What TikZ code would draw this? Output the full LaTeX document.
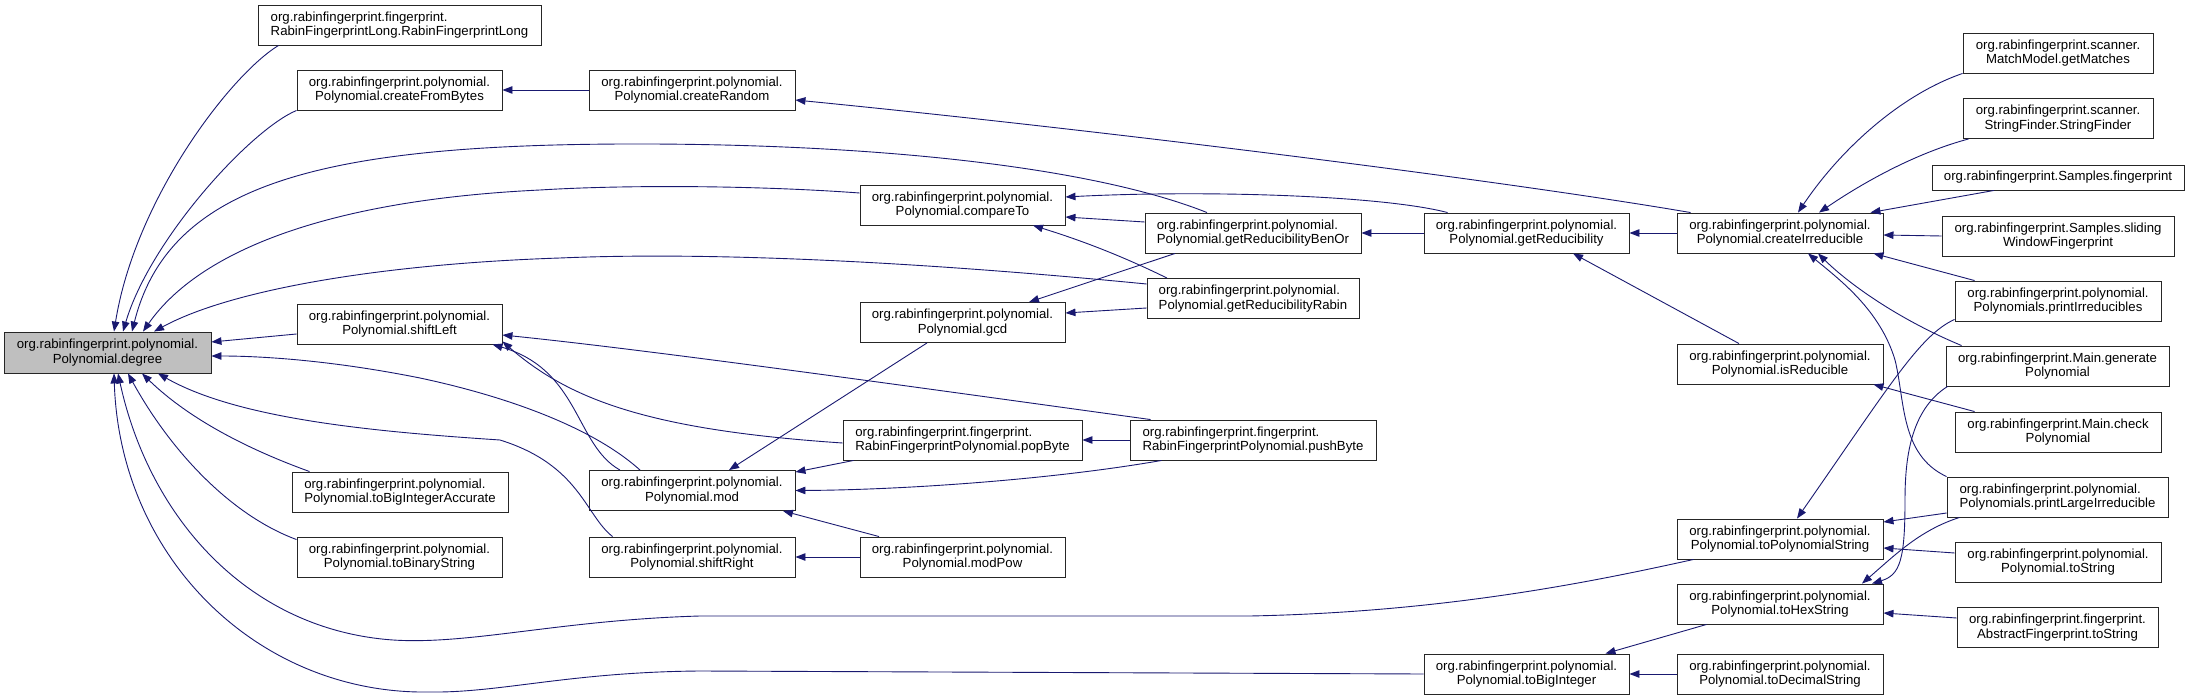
\documentclass[tikz,border=0pt]{standalone}
\usepackage{fontspec}
\setmainfont{Liberation Sans}
\usetikzlibrary{arrows.meta,calc}
\definecolor{edgeblue}{HTML}{191970}
\definecolor{graybg}{HTML}{BFBFBF}
\begin{document}
\begin{tikzpicture}[x=1pt,y=-1pt,
  fn/.style={draw=black!85, line width=0.9pt, fill=white, inner sep=0pt, minimum height=40pt, align=center, font=\fontsize{13.2}{14.5}\selectfont},
  fl/.style={fn, align=left},
  e/.style={draw=edgeblue, line width=0.9pt, -{Triangle[length=10pt,width=7.5pt]}}]
\useasboundingbox (0,0) rectangle (2189,700);
% nodes
\node[fn, minimum width=207pt, minimum height=41pt, fill=graybg] (degree) at (107.5,352.5) {org.rabinfingerprint.polynomial.\\Polynomial.degree};
\node[fl, minimum width=283pt] (rfl) at (399.5,25) {org.rabinfingerprint.fingerprint.\\RabinFingerprintLong.RabinFingerprintLong};
\node[fn, minimum width=205pt] (cfb) at (399.5,90) {org.rabinfingerprint.polynomial.\\Polynomial.createFromBytes};
\node[fn, minimum width=205pt] (shl) at (399.5,324) {org.rabinfingerprint.polynomial.\\Polynomial.shiftLeft};
\node[fl, minimum width=216pt] (tbia) at (400,492) {org.rabinfingerprint.polynomial.\\Polynomial.toBigIntegerAccurate};
\node[fn, minimum width=205pt] (tbs) at (399.5,557) {org.rabinfingerprint.polynomial.\\Polynomial.toBinaryString};
\node[fn, minimum width=206pt] (crnd) at (692,90) {org.rabinfingerprint.polynomial.\\Polynomial.createRandom};
\node[fn, minimum width=205pt] (cmp) at (962.5,205) {org.rabinfingerprint.polynomial.\\Polynomial.compareTo};
\node[fn, minimum width=205pt] (gcd) at (962.5,322.5) {org.rabinfingerprint.polynomial.\\Polynomial.gcd};
\node[fl, minimum width=239pt] (pop) at (962.5,440) {org.rabinfingerprint.fingerprint.\\RabinFingerprintPolynomial.popByte};
\node[fn, minimum width=206pt] (mod) at (692,490.5) {org.rabinfingerprint.polynomial.\\Polynomial.mod};
\node[fn, minimum width=206pt] (shr) at (692,557) {org.rabinfingerprint.polynomial.\\Polynomial.shiftRight};
\node[fn, minimum width=205pt] (modpow) at (962.5,557) {org.rabinfingerprint.polynomial.\\Polynomial.modPow};
\node[fl, minimum width=216pt] (benor) at (1253,233) {org.rabinfingerprint.polynomial.\\Polynomial.getReducibilityBenOr};
\node[fl, minimum width=212pt] (rabin) at (1253,298.5) {org.rabinfingerprint.polynomial.\\Polynomial.getReducibilityRabin};
\node[fl, minimum width=246pt] (push) at (1253,440) {org.rabinfingerprint.fingerprint.\\RabinFingerprintPolynomial.pushByte};
\node[fn, minimum width=205pt] (getred) at (1526.5,233) {org.rabinfingerprint.polynomial.\\Polynomial.getReducibility};
\node[fn, minimum width=205pt] (tbi) at (1526.5,674) {org.rabinfingerprint.polynomial.\\Polynomial.toBigInteger};
\node[fn, minimum width=206pt] (cirr) at (1780,233) {org.rabinfingerprint.polynomial.\\Polynomial.createIrreducible};
\node[fn, minimum width=206pt] (isred) at (1780,364) {org.rabinfingerprint.polynomial.\\Polynomial.isReducible};
\node[fn, minimum width=206pt] (tps) at (1780,539) {org.rabinfingerprint.polynomial.\\Polynomial.toPolynomialString};
\node[fn, minimum width=206pt] (ths) at (1780,604) {org.rabinfingerprint.polynomial.\\Polynomial.toHexString};
\node[fn, minimum width=206pt] (tds) at (1780,674) {org.rabinfingerprint.polynomial.\\Polynomial.toDecimalString};
\node[fn, minimum width=190pt] (getm) at (2058,53) {org.rabinfingerprint.scanner.\\MatchModel.getMatches};
\node[fn, minimum width=190pt] (strf) at (2058,118.5) {org.rabinfingerprint.scanner.\\StringFinder.StringFinder};
\node[fn, minimum width=252pt, minimum height=25pt] (sfp) at (2058,177.5) {org.rabinfingerprint.Samples.fingerprint};
\node[fn, minimum width=232pt] (swf) at (2058,236) {org.rabinfingerprint.Samples.sliding\\WindowFingerprint};
\node[fn, minimum width=206pt] (pirr) at (2058,301) {org.rabinfingerprint.polynomial.\\Polynomials.printIrreducibles};
\node[fn, minimum width=223pt] (genp) at (2057.5,366) {org.rabinfingerprint.Main.generate\\Polynomial};
\node[fn, minimum width=206pt] (chkp) at (2058,432) {org.rabinfingerprint.Main.check\\Polynomial};
\node[fl, minimum width=221pt] (plirr) at (2057.5,497) {org.rabinfingerprint.polynomial.\\Polynomials.printLargeIrreducible};
\node[fn, minimum width=206pt] (tostr) at (2058,562) {org.rabinfingerprint.polynomial.\\Polynomial.toString};
\node[fn, minimum width=201pt] (aftostr) at (2057.5,627.5) {org.rabinfingerprint.fingerprint.\\AbstractFingerprint.toString};
% edges into degree
\draw[e] ($(rfl.south west)+(21,0)$) .. controls (230,75) and (135,200) .. ($(degree.north)+(6.5,0)$);
\draw[e] (cfb.south west) .. controls (250,130) and (150,240) .. ($(degree.north)+(15.5,0)$);
\draw[e] ($(benor.north)+(-46,0)$) .. controls (1100,170) and (900,145) .. (650,144) .. controls (330,143) and (170,180) .. ($(degree.north)+(24.5,0)$);
\draw[e] ($(cmp.west)+(0,-12)$) .. controls (750,185) and (620,185) .. (540,190) .. controls (330,200) and (200,250) .. ($(degree.north)+(35.5,0)$);
\draw[e] ($(rabin.west)+(0,-14.5)$) .. controls (900,260) and (700,252) .. (560,258) .. controls (380,264) and (230,290) .. ($(degree.north)+(46.5,0)$);
\draw[e] ($(shl.west)+(0,10)$) -- ($(degree.east)+(0,-10.5)$);
\draw[e] ($(mod.north)+(-52,0)$) .. controls (590,425) and (500,395) .. (420,378) .. controls (330,360) and (260,356) .. ($(degree.east)+(0,3.5)$);
\draw[e] ($(shr.north west)+(24,0)$) .. controls (585,515) and (580,465) .. (500,440) .. controls (380,432) and (240,420) .. ($(degree.south)+(50.5,0)$);
\draw[e] ($(tbia.north west)+(18,0)$) .. controls (250,450) and (190,420) .. ($(degree.south)+(34.5,0)$);
\draw[e] ($(tbs.north west)+(0,3)$) .. controls (230,515) and (170,450) .. ($(degree.south)+(20.5,0)$);
\draw[e] ($(tps.south west)+(17,0)$) .. controls (1600,580) and (1450,612) .. (1250,616) -- (700,616) .. controls (560,620) and (470,645) .. (393,640) .. controls (250,630) and (150,520) .. ($(degree.south)+(10.5,0)$);
\draw[e] (tbi.west) -- (700,671) .. controls (570,672) and (500,693) .. (430,692) .. controls (260,695) and (120,560) .. ($(degree.south)+(6.5,0)$);
% shiftLeft
\draw[e] ($(mod.north)+(-72,0)$) .. controls (575,445) and (580,370) .. ($(shl.south east)+(-10,0)$);
\draw[e] ($(pop.west)+(0,3)$) .. controls (650,430) and (570,400) .. ($(shl.south east)+(0,-3)$);
\draw[e] ($(push.north west)+(21,0)$) .. controls (900,385) and (650,350) .. ($(shl.east)+(0,11)$);
% mod
\draw[e] ($(gcd.south)+(-35.5,0)$) -- ($(mod.north)+(37,0)$);
\draw[e] ($(pop.south west)+(11,0)$) -- ($(mod.north east)+(0,2)$);
\draw[e] ($(push.south west)+(32,0)$) .. controls (1050,480) and (900,490) .. (mod.east);
\draw[e] ($(modpow.north)+(-83.5,0)$) -- ($(mod.south)+(91,0)$);
\draw[e] (modpow.west) -- (shr.east);
% others
\draw[e] (crnd.west) -- (cfb.east);
\draw[e] ($(cirr.north west)+(14,0)$) .. controls (1500,180) and (1100,130) .. ($(crnd.east)+(0,10)$);
\draw[e] ($(getred.north west)+(24,0)$) .. controls (1380,195) and (1200,190) .. ($(cmp.east)+(0,-8)$);
\draw[e] ($(benor.west)+(0,-11)$) -- ($(cmp.east)+(0,12)$);
\draw[e] ($(rabin.north)+(-86,0)$) .. controls (1120,255) and (1080,240) .. ($(cmp.south)+(70.5,0)$);
\draw[e] ($(benor.south)+(-78,0)$) -- ($(gcd.north)+(66.5,0)$);
\draw[e] ($(rabin.west)+(0,9.5)$) -- ($(gcd.east)+(0,-9.5)$);
\draw[e] (getred.west) -- (benor.east);
\draw[e] (cirr.west) -- (getred.east);
\draw[e] ($(isred.north)+(-41,0)$) -- ($(getred.south)+(46.5,0)$);
\draw[e] (push.west) -- (pop.east);
% createIrreducible
\draw[e] (getm.south west) .. controls (1900,95) and (1840,150) .. ($(cirr.north)+(18,0)$);
\draw[e] ($(strf.south west)+(6,0)$) .. controls (1920,152) and (1870,178) .. ($(cirr.north)+(39,0)$);
\draw[e] ($(sfp.south)+(-64,0)$) -- ($(cirr.north east)+(-13,0)$);
\draw[e] (swf.west) -- ($(cirr.east)+(0,2)$);
\draw[e] ($(pirr.north west)+(20,0)$) -- ($(cirr.south east)+(-10,0)$);
\draw[e] ($(genp.north west)+(16,0)$) .. controls (1900,320) and (1850,285) .. ($(cirr.south)+(38,0)$);
\draw[e] (plirr.north west) .. controls (1900,455) and (1905,400) .. (1895,360) .. controls (1880,310) and (1840,280) .. ($(cirr.south)+(28,0)$);
\draw[e] ($(chkp.north west)+(20,0)$) -- ($(isred.south east)+(-10,0)$);
% toPolynomialString / toHexString
\draw[e] ($(pirr.south west)+(0,-2)$) .. controls (1920,335) and (1890,385) .. ($(tps.north)+(17,0)$);
\draw[e] ($(plirr.west)+(0,16)$) -- ($(tps.east)+(0,-17)$);
\draw[e] ($(tostr.west)+(0,-9)$) -- ($(tps.east)+(0,9)$);
\draw[e] ($(genp.south west)+(2,0)$) .. controls (1910,410) and (1905,460) .. (1905,500) .. controls (1905,560) and (1900,575) .. ($(ths.north)+(92,0)$);
\draw[e] ($(plirr.south west)+(13,0)$) .. controls (1920,530) and (1895,555) .. ($(ths.north)+(82,0)$);
\draw[e] ($(aftostr.west)+(0,-9.5)$) -- ($(ths.east)+(0,9)$);
\draw[e] ($(ths.south west)+(30,0)$) -- ($(tbi.north east)+(-24,0)$);
\draw[e] (tds.west) -- (tbi.east);
\end{tikzpicture}
\end{document}
